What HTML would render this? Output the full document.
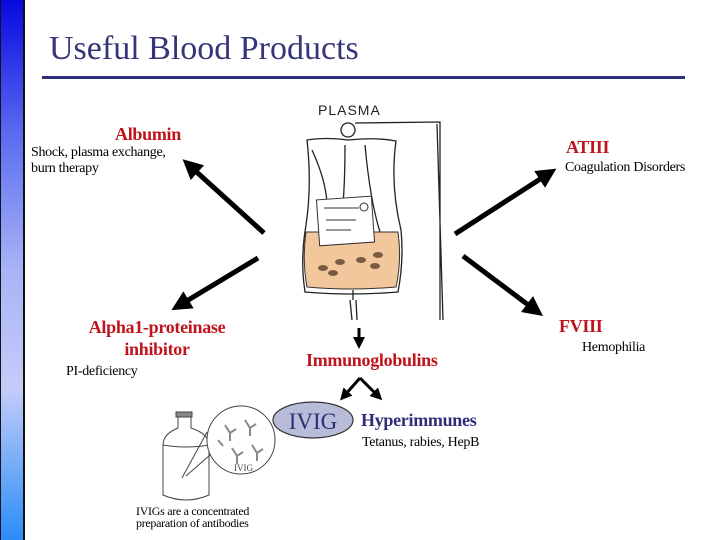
<!DOCTYPE html>
<html><head><meta charset="utf-8"><style>
body{margin:0;width:720px;height:540px;overflow:hidden;background:#fff;position:relative;font-family:"Liberation Serif",serif}
.bar{position:absolute;left:0;top:0;width:22px;height:540px;background:linear-gradient(#0808e0 0%,#5a6cf0 25%,#a8b4f6 50%,#c4ccf8 72%,#6aa8f8 88%,#2c8cf8 100%);border-left:1px solid #112;border-right:2px solid #111}
.t{position:absolute;white-space:nowrap}
.r{color:#c0141c;font-weight:bold;font-size:18px;letter-spacing:-0.3px}
.s{font-size:14px;color:#000;letter-spacing:-0.3px}
</style></head><body>
<div class="bar"></div>
<div class="t" style="left:49px;top:30px;font-size:34px;color:#35357a">Useful Blood Products</div>
<div style="position:absolute;left:42px;top:76px;width:643px;height:3px;background:#2e2e78"></div>

<div class="t r" style="left:115px;top:124px">Albumin</div>
<div class="t s" style="left:31px;top:145px;line-height:16px">Shock, plasma exchange,<br>burn therapy</div>
<div class="t r" style="left:566px;top:137px">ATIII</div>
<div class="t s" style="left:565px;top:160px">Coagulation Disorders</div>
<div class="t r" style="left:86px;top:316px;text-align:center;line-height:22px;width:142px">Alpha1-proteinase<br>inhibitor</div>
<div class="t s" style="left:66px;top:364px">PI-deficiency</div>
<div class="t r" style="left:559px;top:316px">FVIII</div>
<div class="t s" style="left:582px;top:340px">Hemophilia</div>
<div class="t r" style="left:306px;top:350px">Immunoglobulins</div>
<div class="t" style="left:361px;top:410px;font-size:18px;font-weight:bold;color:#2e2e78;letter-spacing:-0.3px">Hyperimmunes</div>
<div class="t" style="left:362px;top:435px;font-size:14px;letter-spacing:-0.3px">Tetanus, rabies, HepB</div>
<div class="t" style="left:136px;top:505px;font-size:12px;line-height:12px;letter-spacing:-0.3px">IVIGs are a concentrated<br>preparation of antibodies</div>

<svg width="720" height="540" style="position:absolute;left:0;top:0">
<defs><marker id="a" markerWidth="4" markerHeight="4" refX="2" refY="2" orient="auto"><path d="M0,0L4,2L0,4Z" fill="#000"/></marker></defs>
<g stroke="#000" stroke-width="5" marker-end="url(#a)">
<line x1="264" y1="233" x2="190" y2="166"/>
<line x1="258" y1="258" x2="180" y2="305"/>
<line x1="455" y1="234" x2="548" y2="174"/>
<line x1="463" y1="256" x2="535" y2="310"/>
</g>
<g stroke="#000" stroke-width="3" marker-end="url(#a)">
<line x1="359" y1="328" x2="359" y2="343"/>
<line x1="360" y1="378" x2="344" y2="396"/>
<line x1="360" y1="378" x2="378" y2="396"/>
</g>
<ellipse cx="313" cy="420" rx="40" ry="18" fill="#b8bcd8" stroke="#333" stroke-width="1.2"/>
<text x="313" y="429" text-anchor="middle" font-family="Liberation Serif" font-size="23" fill="#2e2e78">IVIG</text>
<text x="318" y="115" font-family="Liberation Sans" font-size="14" fill="#222" letter-spacing="1">PLASMA</text>
<g fill="none" stroke="#222" stroke-width="1.3">
<circle cx="348" cy="130" r="7"/>
<path d="M355,123 L440,122 L440,320 M437,124 L443,320"/>
<path d="M307,140 Q325,137 348,140 Q375,137 396,141 Q390,185 401,230 Q404,260 398,292 Q350,296 305,292 Q300,260 306,225 Q312,185 307,140Z"/>
<path d="M312,150 Q335,200 323,232 M345,145 Q345,200 340,230 M365,145 Q370,200 380,232"/>
<path d="M353,290 L353,300 M350,300 L352,320 M356,300 L357,320"/>
</g>
<path d="M306,232 L398,232 Q402,260 396,287 Q350,291 307,287 Q302,260 306,232Z" fill="#f3c79c" stroke="#333" stroke-width="1"/>
<rect x="318" y="198" width="55" height="46" fill="#fff" stroke="#333" stroke-width="1" transform="rotate(-4 345 221)"/>
<g stroke="#333" stroke-width="1" fill="none"><path d="M324,208 h35 M326,220 h30 M326,230 h25"/><circle cx="364" cy="207" r="4"/></g>
<g fill="#7a5a40"><ellipse cx="323" cy="268" rx="5" ry="3"/><ellipse cx="340" cy="262" rx="5" ry="3"/><ellipse cx="333" cy="273" rx="5" ry="3"/><ellipse cx="361" cy="260" rx="5" ry="3"/><ellipse cx="378" cy="255" rx="5" ry="3"/><ellipse cx="375" cy="266" rx="5" ry="3"/></g>
<g fill="none" stroke="#444" stroke-width="1">
<rect x="176" y="412" width="16" height="5" fill="#888"/>
<path d="M178,417 L178,428 Q163,434 163,445 L163,495 Q186,505 209,495 L209,445 Q209,434 191,428 L191,417"/>
<path d="M163,445 Q186,449 209,445"/>
<path d="M182,478 L207,432 M186,476 L218,448"/>
<circle cx="241" cy="440" r="34" fill="#fff"/>
</g>
<g stroke="#888" stroke-width="2" fill="none">
<path d="M225,425 l5,8 l6,-4 M230,433 l0,8"/><path d="M245,420 l5,8 l6,-4 M250,428 l0,8"/><path d="M232,448 l5,8 l6,-4 M237,456 l0,8"/><path d="M252,445 l5,8 l6,-4 M257,453 l0,8"/><path d="M218,440 l5,6"/>
</g>
<text x="234" y="471" font-family="Liberation Serif" font-size="9" fill="#444">IVIG</text>
</svg>
</body></html>
